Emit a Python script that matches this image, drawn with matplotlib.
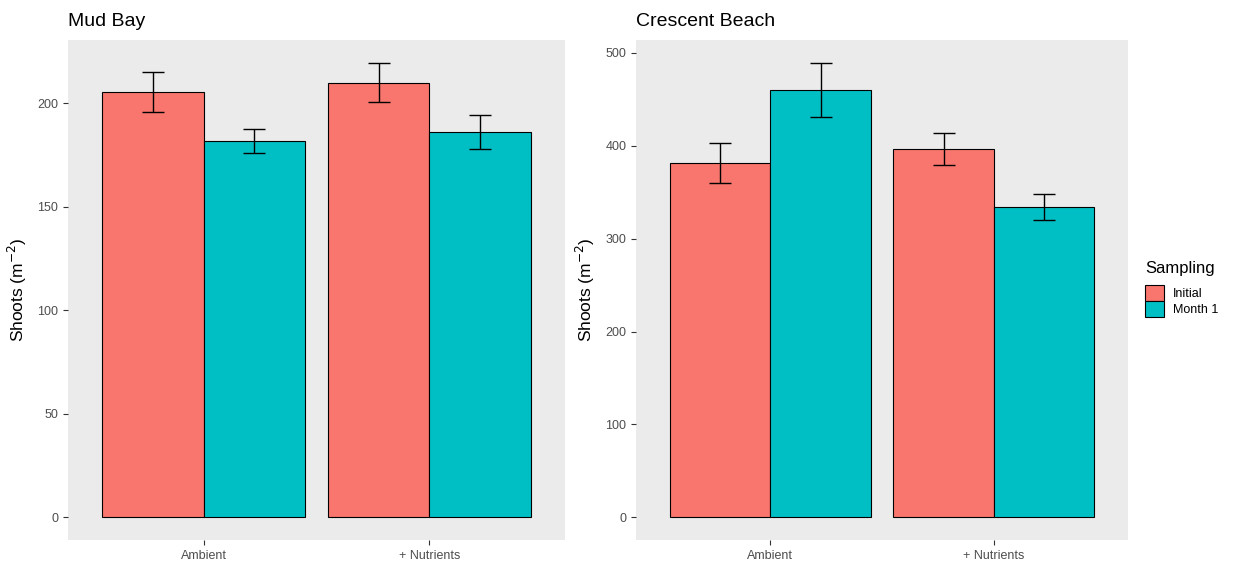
import numpy as np
import matplotlib
matplotlib.use("Agg")
from matplotlib import pyplot as plt
from matplotlib.patches import Patch

plt.rcParams['font.family'] = ['Liberation Sans', 'DejaVu Sans']

treatments = ["Ambient", "+ Nutrients"]
samplings = ["Initial", "Month 1"]
colors = ["#F8766D", "#00BFC4"]

# mean shoot density and standard error, one row per sampling
mud_bay_mean = [[205.5, 210.0], [182.0, 186.0]]
mud_bay_se = [[9.5, 9.6], [5.8, 8.2]]
crescent_mean = [[381.5, 396.5], [460.5, 334.0]]
crescent_se = [[22.0, 17.0], [29.0, 14.0]]

sites = [
    ("Mud Bay", mud_bay_mean, mud_bay_se, [0, 50, 100, 150, 200]),
    ("Crescent Beach", crescent_mean, crescent_se, [0, 100, 200, 300, 400, 500]),
]

fig = plt.figure(figsize=(12.38, 5.63), dpi=100)
axes = [
    fig.add_axes([68 / 1238, 23 / 563, 497 / 1238, 500 / 563]),
    fig.add_axes([636 / 1238, 23 / 563, 492 / 1238, 500 / 563]),
]

width = 0.45
for ax, (name, means, ses, ticks) in zip(axes, sites):
    ax.set_facecolor("#EBEBEB")
    x = np.arange(1, len(treatments) + 1)
    top = 0
    for k, samp in enumerate(samplings):
        pos = x + (k - 0.5) * width
        m = np.array(means[k])
        s = np.array(ses[k])
        ax.bar(pos, m, width=width, color=colors[k], edgecolor="black",
               linewidth=0.8, zorder=2)
        ax.errorbar(pos, m, yerr=s, fmt="none", ecolor="black", elinewidth=1.0,
                    capsize=8, capthick=1.0, zorder=3)
        top = max(top, (m + s).max())
    pad = 0.05 * top
    ax.set_ylim(-pad, top + pad)
    ax.set_xlim(0.4, len(treatments) + 0.6)
    ax.set_xticks(x)
    ax.set_xticklabels(treatments)
    ax.set_yticks(ticks)
    for sp in ax.spines.values():
        sp.set_visible(False)
    ax.tick_params(axis="both", colors="#333333", labelcolor="#4D4D4D",
                   labelsize=9, length=3.5, width=0.8)
    ax.set_ylabel("Shoots (m$^{-2}$)", fontsize=12.5, color="black", labelpad=6)
    ax.set_title(name, loc="left", fontsize=14, pad=10)

handles = [Patch(facecolor=c, edgecolor="black", linewidth=0.8) for c in colors]
leg = fig.legend(handles, samplings, title="Sampling", loc="upper left",
                 bbox_to_anchor=(1134 / 1238, 1 - 250 / 563), frameon=False,
                 fontsize=9, title_fontsize=12, handlelength=1.5,
                 handleheight=1.6, handletextpad=0.7, labelspacing=0.05)
leg._legend_box.align = "left"
leg._legend_box.sep = 6

fig.savefig("out.png", dpi=100)
